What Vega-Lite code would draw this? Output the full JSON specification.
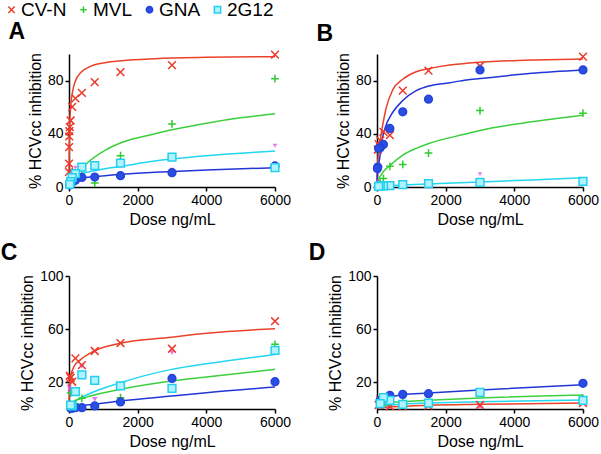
{
  "$schema": "https://vega.github.io/schema/vega-lite/v6.json",
  "padding": {"left": 0, "top": 0, "right": 2, "bottom": 2},
  "background": "white",
  "datasets": {
    "pts": [
      {"panel":"A","series":"CV-N","dose":6000,"pct":99.5},{"panel":"A","series":"CV-N","dose":3000,"pct":91.7},{"panel":"A","series":"CV-N","dose":1500,"pct":86.4},{"panel":"A","series":"CV-N","dose":750,"pct":78.8},{"panel":"A","series":"CV-N","dose":375,"pct":70.8},{"panel":"A","series":"CV-N","dose":187.5,"pct":66.6},{"panel":"A","series":"CV-N","dose":93.75,"pct":60.3},{"panel":"A","series":"CV-N","dose":46.9,"pct":50},{"panel":"A","series":"CV-N","dose":23.4,"pct":45},{"panel":"A","series":"CV-N","dose":11.7,"pct":42},{"panel":"A","series":"CV-N","dose":5.86,"pct":38},{"panel":"A","series":"CV-N","dose":2.93,"pct":30},{"panel":"A","series":"CV-N","dose":1.46,"pct":17.6},{"panel":"A","series":"CV-N","dose":0.73,"pct":11.3},
      {"panel":"A","series":"MVL","dose":6000,"pct":81.4},{"panel":"A","series":"MVL","dose":3000,"pct":47.4},{"panel":"A","series":"MVL","dose":1500,"pct":23.5},{"panel":"A","series":"MVL","dose":750,"pct":3},{"panel":"A","series":"MVL","dose":375,"pct":12.5},{"panel":"A","series":"MVL","dose":187.5,"pct":8},{"panel":"A","series":"MVL","dose":93.75,"pct":6},{"panel":"A","series":"MVL","dose":46.9,"pct":4.5},{"panel":"A","series":"MVL","dose":23.4,"pct":3},
      {"panel":"A","series":"GNA","dose":6000,"pct":15.8},{"panel":"A","series":"GNA","dose":3000,"pct":10.8},{"panel":"A","series":"GNA","dose":1500,"pct":8.5},{"panel":"A","series":"GNA","dose":750,"pct":7.5},{"panel":"A","series":"GNA","dose":375,"pct":7.2},{"panel":"A","series":"GNA","dose":187.5,"pct":5},{"panel":"A","series":"GNA","dose":93.75,"pct":3.5},{"panel":"A","series":"GNA","dose":46.9,"pct":2.5},{"panel":"A","series":"GNA","dose":23.4,"pct":1.5},
      {"panel":"A","series":"2G12","dose":6000,"pct":14.5},{"panel":"A","series":"2G12","dose":3000,"pct":22.5},{"panel":"A","series":"2G12","dose":1500,"pct":18},{"panel":"A","series":"2G12","dose":750,"pct":16},{"panel":"A","series":"2G12","dose":375,"pct":15},{"panel":"A","series":"2G12","dose":187.5,"pct":10},{"panel":"A","series":"2G12","dose":93.75,"pct":7},{"panel":"A","series":"2G12","dose":46.9,"pct":4},{"panel":"A","series":"2G12","dose":23.4,"pct":2},
      {"panel":"B","series":"CV-N","dose":6000,"pct":98},{"panel":"B","series":"CV-N","dose":3000,"pct":91},{"panel":"B","series":"CV-N","dose":1500,"pct":87.5},{"panel":"B","series":"CV-N","dose":750,"pct":72.5},{"panel":"B","series":"CV-N","dose":375,"pct":39},{"panel":"B","series":"CV-N","dose":187.5,"pct":41.5},{"panel":"B","series":"CV-N","dose":93.75,"pct":35},{"panel":"B","series":"CV-N","dose":46.9,"pct":32},{"panel":"B","series":"CV-N","dose":23.4,"pct":28},
      {"panel":"B","series":"MVL","dose":6000,"pct":55.5},{"panel":"B","series":"MVL","dose":3000,"pct":57.5},{"panel":"B","series":"MVL","dose":1500,"pct":25.5},{"panel":"B","series":"MVL","dose":750,"pct":17},{"panel":"B","series":"MVL","dose":375,"pct":15.6},{"panel":"B","series":"MVL","dose":187.5,"pct":6.3},{"panel":"B","series":"MVL","dose":93.75,"pct":3},{"panel":"B","series":"MVL","dose":46.9,"pct":2},
      {"panel":"B","series":"GNA","dose":6000,"pct":88},{"panel":"B","series":"GNA","dose":3000,"pct":88},{"panel":"B","series":"GNA","dose":1500,"pct":66},{"panel":"B","series":"GNA","dose":750,"pct":56.5},{"panel":"B","series":"GNA","dose":375,"pct":44},{"panel":"B","series":"GNA","dose":187.5,"pct":32},{"panel":"B","series":"GNA","dose":93.75,"pct":29.5},{"panel":"B","series":"GNA","dose":46.9,"pct":29},{"panel":"B","series":"GNA","dose":23.4,"pct":15},{"panel":"B","series":"GNA","dose":11.7,"pct":14},
      {"panel":"B","series":"2G12","dose":6000,"pct":4.3},{"panel":"B","series":"2G12","dose":3000,"pct":3.5},{"panel":"B","series":"2G12","dose":1500,"pct":2.5},{"panel":"B","series":"2G12","dose":750,"pct":1.8},{"panel":"B","series":"2G12","dose":375,"pct":1},{"panel":"B","series":"2G12","dose":187.5,"pct":0.8},{"panel":"B","series":"2G12","dose":93.75,"pct":0.8},{"panel":"B","series":"2G12","dose":46.9,"pct":0.5},
      {"panel":"C","series":"CV-N","dose":6000,"pct":66},{"panel":"C","series":"CV-N","dose":3000,"pct":45.3},{"panel":"C","series":"CV-N","dose":1500,"pct":49.6},{"panel":"C","series":"CV-N","dose":750,"pct":43.6},{"panel":"C","series":"CV-N","dose":375,"pct":33},{"panel":"C","series":"CV-N","dose":187.5,"pct":38},{"panel":"C","series":"CV-N","dose":93.75,"pct":20.5},{"panel":"C","series":"CV-N","dose":46.9,"pct":23.5},{"panel":"C","series":"CV-N","dose":23.4,"pct":25},
      {"panel":"C","series":"MVL","dose":6000,"pct":48.6},{"panel":"C","series":"MVL","dose":1500,"pct":8.5},{"panel":"C","series":"MVL","dose":375,"pct":8},{"panel":"C","series":"MVL","dose":187.5,"pct":4},{"panel":"C","series":"MVL","dose":93.75,"pct":2},{"panel":"C","series":"MVL","dose":46.9,"pct":12},{"panel":"C","series":"MVL","dose":23.4,"pct":3},
      {"panel":"C","series":"GNA","dose":6000,"pct":20.5},{"panel":"C","series":"GNA","dose":3000,"pct":23},{"panel":"C","series":"GNA","dose":1500,"pct":5.3},{"panel":"C","series":"GNA","dose":750,"pct":2.3},{"panel":"C","series":"GNA","dose":375,"pct":1},{"panel":"C","series":"GNA","dose":187.5,"pct":1},{"panel":"C","series":"GNA","dose":93.75,"pct":0.5},{"panel":"C","series":"GNA","dose":46.9,"pct":0.5},
      {"panel":"C","series":"2G12","dose":6000,"pct":44},{"panel":"C","series":"2G12","dose":3000,"pct":15.5},{"panel":"C","series":"2G12","dose":1500,"pct":17.3},{"panel":"C","series":"2G12","dose":750,"pct":21.6},{"panel":"C","series":"2G12","dose":375,"pct":25.6},{"panel":"C","series":"2G12","dose":187.5,"pct":13},{"panel":"C","series":"2G12","dose":93.75,"pct":2.3},{"panel":"C","series":"2G12","dose":46.9,"pct":3},
      {"panel":"D","series":"CV-N","dose":6000,"pct":4.5},{"panel":"D","series":"CV-N","dose":3000,"pct":3},{"panel":"D","series":"CV-N","dose":1500,"pct":2.5},{"panel":"D","series":"CV-N","dose":750,"pct":2},{"panel":"D","series":"CV-N","dose":375,"pct":2},{"panel":"D","series":"CV-N","dose":93.75,"pct":7},{"panel":"D","series":"CV-N","dose":46.9,"pct":3},
      {"panel":"D","series":"MVL","dose":6000,"pct":8},{"panel":"D","series":"MVL","dose":1500,"pct":11},{"panel":"D","series":"MVL","dose":750,"pct":6},{"panel":"D","series":"MVL","dose":375,"pct":5},{"panel":"D","series":"MVL","dose":187.5,"pct":3},
      {"panel":"D","series":"GNA","dose":6000,"pct":19.3},{"panel":"D","series":"GNA","dose":1500,"pct":11.5},{"panel":"D","series":"GNA","dose":750,"pct":11},{"panel":"D","series":"GNA","dose":375,"pct":10.3},{"panel":"D","series":"GNA","dose":187.5,"pct":8},{"panel":"D","series":"GNA","dose":93.75,"pct":6.5},
      {"panel":"D","series":"2G12","dose":6000,"pct":6.5},{"panel":"D","series":"2G12","dose":3000,"pct":12.5},{"panel":"D","series":"2G12","dose":1500,"pct":4.5},{"panel":"D","series":"2G12","dose":750,"pct":3.5},{"panel":"D","series":"2G12","dose":375,"pct":6.5},{"panel":"D","series":"2G12","dose":187.5,"pct":8.5},{"panel":"D","series":"2G12","dose":93.75,"pct":4}
    ],
    "extra": [
      {"panel":"A","dose":6000,"pct":31},{"panel":"A","dose":3000,"pct":13},{"panel":"A","dose":1500,"pct":18},{"panel":"A","dose":750,"pct":17},{"panel":"A","dose":187.5,"pct":14.5},{"panel":"A","dose":93.75,"pct":9},
      {"panel":"B","dose":3000,"pct":9.6},{"panel":"B","dose":1500,"pct":2.5},{"panel":"B","dose":750,"pct":3.8},{"panel":"B","dose":187.5,"pct":2},{"panel":"B","dose":46.9,"pct":10.5},{"panel":"B","dose":23.4,"pct":4.3},
      {"panel":"C","dose":3000,"pct":42.3},{"panel":"C","dose":1500,"pct":18.6},{"panel":"C","dose":750,"pct":7.3},{"panel":"C","dose":375,"pct":32.3},{"panel":"C","dose":46.9,"pct":14.5},{"panel":"C","dose":23.4,"pct":12.5},{"panel":"C","dose":11.7,"pct":16.5},
      {"panel":"D","dose":3000,"pct":1.5},{"panel":"D","dose":1500,"pct":3.5},{"panel":"D","dose":750,"pct":3},{"panel":"D","dose":375,"pct":1.5},{"panel":"D","dose":93.75,"pct":1}
    ],
    "fit": [
      {"panel":"A","series":"CV-N","dose":0,"pct":0},{"panel":"A","series":"CV-N","dose":2,"pct":12},{"panel":"A","series":"CV-N","dose":5,"pct":20},{"panel":"A","series":"CV-N","dose":10,"pct":33},{"panel":"A","series":"CV-N","dose":20,"pct":46},{"panel":"A","series":"CV-N","dose":48,"pct":60},{"panel":"A","series":"CV-N","dose":100,"pct":71},{"panel":"A","series":"CV-N","dose":175,"pct":79},{"panel":"A","series":"CV-N","dose":369,"pct":86.7},{"panel":"A","series":"CV-N","dose":563,"pct":90},{"panel":"A","series":"CV-N","dose":1048,"pct":93.5},{"panel":"A","series":"CV-N","dose":1533,"pct":95},{"panel":"A","series":"CV-N","dose":2503,"pct":96.5},{"panel":"A","series":"CV-N","dose":4000,"pct":97.5},{"panel":"A","series":"CV-N","dose":6000,"pct":98},
      {"panel":"A","series":"MVL","dose":0,"pct":0},{"panel":"A","series":"MVL","dose":50,"pct":2.5},{"panel":"A","series":"MVL","dose":100,"pct":5},{"panel":"A","series":"MVL","dose":175,"pct":8.8},{"panel":"A","series":"MVL","dose":369,"pct":13.8},{"panel":"A","series":"MVL","dose":563,"pct":18.8},{"panel":"A","series":"MVL","dose":1048,"pct":27.6},{"panel":"A","series":"MVL","dose":1533,"pct":33.5},{"panel":"A","series":"MVL","dose":2503,"pct":40},{"panel":"A","series":"MVL","dose":3000,"pct":43},{"panel":"A","series":"MVL","dose":4000,"pct":48},{"panel":"A","series":"MVL","dose":5000,"pct":52},{"panel":"A","series":"MVL","dose":6000,"pct":55},
      {"panel":"A","series":"2G12","dose":0,"pct":0},{"panel":"A","series":"2G12","dose":50,"pct":3},{"panel":"A","series":"2G12","dose":100,"pct":5},{"panel":"A","series":"2G12","dose":200,"pct":7.5},{"panel":"A","series":"2G12","dose":369,"pct":10},{"panel":"A","series":"2G12","dose":700,"pct":12},{"panel":"A","series":"2G12","dose":1048,"pct":13.8},{"panel":"A","series":"2G12","dose":1500,"pct":15.5},{"panel":"A","series":"2G12","dose":2503,"pct":19.5},{"panel":"A","series":"2G12","dose":3000,"pct":21},{"panel":"A","series":"2G12","dose":4000,"pct":23.5},{"panel":"A","series":"2G12","dose":6000,"pct":27},
      {"panel":"A","series":"GNA","dose":0,"pct":0},{"panel":"A","series":"GNA","dose":30,"pct":2},{"panel":"A","series":"GNA","dose":100,"pct":4},{"panel":"A","series":"GNA","dose":200,"pct":5.5},{"panel":"A","series":"GNA","dose":369,"pct":6.8},{"panel":"A","series":"GNA","dose":750,"pct":7.8},{"panel":"A","series":"GNA","dose":1048,"pct":8.5},{"panel":"A","series":"GNA","dose":1500,"pct":9.5},{"panel":"A","series":"GNA","dose":2500,"pct":11},{"panel":"A","series":"GNA","dose":3000,"pct":11.6},{"panel":"A","series":"GNA","dose":4000,"pct":12.8},{"panel":"A","series":"GNA","dose":6000,"pct":14.5},
      {"panel":"B","series":"CV-N","dose":0,"pct":0},{"panel":"B","series":"CV-N","dose":10,"pct":12},{"panel":"B","series":"CV-N","dose":30,"pct":22},{"panel":"B","series":"CV-N","dose":68,"pct":30},{"panel":"B","series":"CV-N","dose":100,"pct":36},{"panel":"B","series":"CV-N","dose":166,"pct":46.5},{"panel":"B","series":"CV-N","dose":263,"pct":59},{"panel":"B","series":"CV-N","dose":458,"pct":73},{"panel":"B","series":"CV-N","dose":751,"pct":81},{"panel":"B","series":"CV-N","dose":1141,"pct":86.7},{"panel":"B","series":"CV-N","dose":1512,"pct":89},{"panel":"B","series":"CV-N","dose":2117,"pct":91.7},{"panel":"B","series":"CV-N","dose":2605,"pct":93},{"panel":"B","series":"CV-N","dose":3500,"pct":94.5},{"panel":"B","series":"CV-N","dose":4500,"pct":95.5},{"panel":"B","series":"CV-N","dose":6000,"pct":96.3},
      {"panel":"B","series":"GNA","dose":0,"pct":0},{"panel":"B","series":"GNA","dose":10,"pct":8},{"panel":"B","series":"GNA","dose":30,"pct":14},{"panel":"B","series":"GNA","dose":68,"pct":20},{"panel":"B","series":"GNA","dose":166,"pct":37.7},{"panel":"B","series":"GNA","dose":263,"pct":46.5},{"panel":"B","series":"GNA","dose":380,"pct":52.8},{"panel":"B","series":"GNA","dose":751,"pct":65},{"panel":"B","series":"GNA","dose":1141,"pct":72.4},{"panel":"B","series":"GNA","dose":1512,"pct":76},{"panel":"B","series":"GNA","dose":2117,"pct":78.4},{"panel":"B","series":"GNA","dose":2605,"pct":80.5},{"panel":"B","series":"GNA","dose":3000,"pct":81.5},{"panel":"B","series":"GNA","dose":4500,"pct":85.5},{"panel":"B","series":"GNA","dose":6000,"pct":88},
      {"panel":"B","series":"MVL","dose":0,"pct":0},{"panel":"B","series":"MVL","dose":50,"pct":6},{"panel":"B","series":"MVL","dose":117,"pct":9},{"panel":"B","series":"MVL","dose":200,"pct":12},{"panel":"B","series":"MVL","dose":380,"pct":16.3},{"panel":"B","series":"MVL","dose":751,"pct":24},{"panel":"B","series":"MVL","dose":1141,"pct":29},{"panel":"B","series":"MVL","dose":1512,"pct":32.7},{"panel":"B","series":"MVL","dose":2605,"pct":40},{"panel":"B","series":"MVL","dose":3000,"pct":42.5},{"panel":"B","series":"MVL","dose":4500,"pct":49},{"panel":"B","series":"MVL","dose":6000,"pct":54},
      {"panel":"B","series":"2G12","dose":0,"pct":0.5},{"panel":"B","series":"2G12","dose":750,"pct":1.5},{"panel":"B","series":"2G12","dose":1500,"pct":2.3},{"panel":"B","series":"2G12","dose":3000,"pct":3.8},{"panel":"B","series":"2G12","dose":4500,"pct":5.3},{"panel":"B","series":"2G12","dose":6000,"pct":7},
      {"panel":"C","series":"CV-N","dose":0,"pct":3},{"panel":"C","series":"CV-N","dose":10,"pct":14},{"panel":"C","series":"CV-N","dose":38,"pct":23.5},{"panel":"C","series":"CV-N","dose":154,"pct":32.3},{"panel":"C","series":"CV-N","dose":346,"pct":37.3},{"panel":"C","series":"CV-N","dose":731,"pct":43.6},{"panel":"C","series":"CV-N","dose":1500,"pct":49.4},{"panel":"C","series":"CV-N","dose":2990,"pct":54},{"panel":"C","series":"CV-N","dose":4000,"pct":57},{"panel":"C","series":"CV-N","dose":6000,"pct":60.4},
      {"panel":"C","series":"2G12","dose":0,"pct":1},{"panel":"C","series":"2G12","dose":154,"pct":5.5},{"panel":"C","series":"2G12","dose":346,"pct":8.5},{"panel":"C","series":"2G12","dose":731,"pct":13},{"panel":"C","series":"2G12","dose":1500,"pct":19.8},{"panel":"C","series":"2G12","dose":2990,"pct":29.8},{"panel":"C","series":"2G12","dose":4000,"pct":34},{"panel":"C","series":"2G12","dose":6000,"pct":41},
      {"panel":"C","series":"MVL","dose":0,"pct":1.5},{"panel":"C","series":"MVL","dose":154,"pct":6},{"panel":"C","series":"MVL","dose":346,"pct":7.8},{"panel":"C","series":"MVL","dose":731,"pct":10.5},{"panel":"C","series":"MVL","dose":1500,"pct":14.8},{"panel":"C","series":"MVL","dose":2990,"pct":21},{"panel":"C","series":"MVL","dose":4000,"pct":24},{"panel":"C","series":"MVL","dose":6000,"pct":29.8},
      {"panel":"C","series":"GNA","dose":0,"pct":0.5},{"panel":"C","series":"GNA","dose":346,"pct":2.5},{"panel":"C","series":"GNA","dose":731,"pct":3.5},{"panel":"C","series":"GNA","dose":1500,"pct":6},{"panel":"C","series":"GNA","dose":2990,"pct":9.8},{"panel":"C","series":"GNA","dose":4000,"pct":12.3},{"panel":"C","series":"GNA","dose":6000,"pct":16.5},
      {"panel":"D","series":"GNA","dose":0,"pct":5},{"panel":"D","series":"GNA","dose":375,"pct":8.8},{"panel":"D","series":"GNA","dose":750,"pct":10.8},{"panel":"D","series":"GNA","dose":1500,"pct":12},{"panel":"D","series":"GNA","dose":3000,"pct":14.3},{"panel":"D","series":"GNA","dose":6000,"pct":18.3},
      {"panel":"D","series":"MVL","dose":0,"pct":2.5},{"panel":"D","series":"MVL","dose":375,"pct":4.5},{"panel":"D","series":"MVL","dose":750,"pct":5.5},{"panel":"D","series":"MVL","dose":1500,"pct":6.5},{"panel":"D","series":"MVL","dose":3000,"pct":8.3},{"panel":"D","series":"MVL","dose":6000,"pct":10.5},
      {"panel":"D","series":"2G12","dose":0,"pct":1.5},{"panel":"D","series":"2G12","dose":750,"pct":3.8},{"panel":"D","series":"2G12","dose":1500,"pct":4.5},{"panel":"D","series":"2G12","dose":3000,"pct":5.5},{"panel":"D","series":"2G12","dose":6000,"pct":6.8},
      {"panel":"D","series":"CV-N","dose":0,"pct":1},{"panel":"D","series":"CV-N","dose":1500,"pct":2.8},{"panel":"D","series":"CV-N","dose":3000,"pct":3.5},{"panel":"D","series":"CV-N","dose":6000,"pct":4.5}
    ]
  },
  "columns": 2,
  "spacing": {"column": 17, "row": 15},
  "concat": [
    {
      "width": 206, "height": 133,
      "title": {"text": "A"},
      "layer": [
        {"data": {"name": "fit"}, "transform": [{"filter": "datum.panel === 'A'"}],
         "mark": {"type": "line", "interpolate": "monotone", "strokeWidth": 1.5},
         "encoding": {
           "x": {"field": "dose", "type": "quantitative", "scale": {"domain": [0, 6000], "nice": false}, "axis": {"values": [0, 2000, 4000, 6000], "title": "Dose ng/mL", "labelOverlap": false}},
           "y": {"field": "pct", "type": "quantitative", "scale": {"domain": [0, 100], "nice": false}, "axis": {"values": [0, 20, 40, 60, 80, 100], "title": "% HCVcc inhibition", "labelOverlap": false}},
           "color": {"field": "series", "type": "nominal", "scale": {"domain": ["2G12", "GNA", "MVL", "CV-N"], "range": ["#22d6f0", "#2236d6", "#3ccf3c", "#ea4128"]}, "legend": null}
         }},
        {"data": {"name": "extra"}, "transform": [{"filter": "datum.panel === 'A'"}],
         "mark": {"type": "point", "shape": "triangle-down", "filled": true, "color": "#e040e0", "size": 20},
         "encoding": {"x": {"field": "dose", "type": "quantitative"}, "y": {"field": "pct", "type": "quantitative"}}},
        {"data": {"name": "pts"}, "transform": [{"filter": "datum.panel === 'A'"}],
         "mark": {"type": "point", "size": 60, "strokeWidth": 1.5, "opacity": 1},
         "encoding": {
           "x": {"field": "dose", "type": "quantitative"},
           "y": {"field": "pct", "type": "quantitative"},
           "stroke": {"field": "series", "type": "nominal", "scale": {"domain": ["CV-N", "MVL", "GNA", "2G12"], "range": ["#ea3a2a", "#2ecc2e", "#2444dc", "#22cfee"]}},
           "fill": {"field": "series", "type": "nominal", "scale": {"domain": ["CV-N", "MVL", "GNA", "2G12"], "range": ["transparent", "transparent", "#2a4ee2", "#b0f2ff"]}},
           "shape": {"field": "series", "type": "nominal", "scale": {"domain": ["CV-N", "MVL", "GNA", "2G12"], "range": ["M-1,-1L1,1M-1,1L1,-1", "M-1,0L1,0M0,-1L0,1", "circle", "square"]}}
         }}
      ]
    },
    {
      "width": 206, "height": 133,
      "title": {"text": "B"},
      "layer": [
        {"data": {"name": "fit"}, "transform": [{"filter": "datum.panel === 'B'"}],
         "mark": {"type": "line", "interpolate": "monotone", "strokeWidth": 1.5},
         "encoding": {
           "x": {"field": "dose", "type": "quantitative", "scale": {"domain": [0, 6000], "nice": false}, "axis": {"values": [0, 2000, 4000, 6000], "title": "Dose ng/mL", "labelOverlap": false}},
           "y": {"field": "pct", "type": "quantitative", "scale": {"domain": [0, 100], "nice": false}, "axis": {"values": [0, 20, 40, 60, 80, 100], "title": "% HCVcc inhibition", "labelOverlap": false}},
           "color": {"field": "series", "type": "nominal", "legend": null}
         }},
        {"data": {"name": "extra"}, "transform": [{"filter": "datum.panel === 'B'"}],
         "mark": {"type": "point", "shape": "triangle-down", "filled": true, "color": "#e040e0", "size": 20},
         "encoding": {"x": {"field": "dose", "type": "quantitative"}, "y": {"field": "pct", "type": "quantitative"}}},
        {"data": {"name": "pts"}, "transform": [{"filter": "datum.panel === 'B'"}],
         "mark": {"type": "point", "size": 60, "strokeWidth": 1.5, "opacity": 1},
         "encoding": {
           "x": {"field": "dose", "type": "quantitative"},
           "y": {"field": "pct", "type": "quantitative"},
           "stroke": {"field": "series", "type": "nominal"},
           "fill": {"field": "series", "type": "nominal"},
           "shape": {"field": "series", "type": "nominal"}
         }}
      ]
    },
    {
      "width": 206, "height": 133,
      "title": {"text": "C"},
      "layer": [
        {"data": {"name": "fit"}, "transform": [{"filter": "datum.panel === 'C'"}],
         "mark": {"type": "line", "interpolate": "monotone", "strokeWidth": 1.5},
         "encoding": {
           "x": {"field": "dose", "type": "quantitative", "scale": {"domain": [0, 6000], "nice": false}, "axis": {"values": [0, 2000, 4000, 6000], "title": "Dose ng/mL", "labelOverlap": false}},
           "y": {"field": "pct", "type": "quantitative", "scale": {"domain": [0, 100], "nice": false}, "axis": {"values": [20, 40, 60, 80, 100], "title": "% HCVcc inhibition", "labelOverlap": false}},
           "color": {"field": "series", "type": "nominal", "legend": null}
         }},
        {"data": {"name": "extra"}, "transform": [{"filter": "datum.panel === 'C'"}],
         "mark": {"type": "point", "shape": "triangle-down", "filled": true, "color": "#e040e0", "size": 30},
         "encoding": {"x": {"field": "dose", "type": "quantitative"}, "y": {"field": "pct", "type": "quantitative"}}},
        {"data": {"name": "pts"}, "transform": [{"filter": "datum.panel === 'C'"}],
         "mark": {"type": "point", "size": 60, "strokeWidth": 1.5, "opacity": 1},
         "encoding": {
           "x": {"field": "dose", "type": "quantitative"},
           "y": {"field": "pct", "type": "quantitative"},
           "stroke": {"field": "series", "type": "nominal"},
           "fill": {"field": "series", "type": "nominal"},
           "shape": {"field": "series", "type": "nominal"}
         }}
      ]
    },
    {
      "width": 206, "height": 133,
      "title": {"text": "D"},
      "layer": [
        {"data": {"name": "fit"}, "transform": [{"filter": "datum.panel === 'D'"}],
         "mark": {"type": "line", "interpolate": "monotone", "strokeWidth": 1.5},
         "encoding": {
           "x": {"field": "dose", "type": "quantitative", "scale": {"domain": [0, 6000], "nice": false}, "axis": {"values": [0, 2000, 4000, 6000], "title": "Dose ng/mL", "labelOverlap": false}},
           "y": {"field": "pct", "type": "quantitative", "scale": {"domain": [0, 100], "nice": false}, "axis": {"values": [20, 40, 60, 80, 100], "title": "% HCVcc inhibition", "labelOverlap": false}},
           "color": {"field": "series", "type": "nominal", "legend": null}
         }},
        {"data": {"name": "extra"}, "transform": [{"filter": "datum.panel === 'D'"}],
         "mark": {"type": "point", "shape": "triangle-down", "filled": true, "color": "#e040e0", "size": 30},
         "encoding": {"x": {"field": "dose", "type": "quantitative"}, "y": {"field": "pct", "type": "quantitative"}}},
        {"data": {"name": "pts"}, "transform": [{"filter": "datum.panel === 'D'"}],
         "mark": {"type": "point", "size": 60, "strokeWidth": 1.5, "opacity": 1},
         "encoding": {
           "x": {"field": "dose", "type": "quantitative"},
           "y": {"field": "pct", "type": "quantitative"},
           "stroke": {"field": "series", "type": "nominal"},
           "fill": {"field": "series", "type": "nominal"},
           "shape": {"field": "series", "type": "nominal"}
         }}
      ]
    }
  ],
  "config": {
    "font": "Liberation Sans",
    "view": {"stroke": null},
    "title": {"anchor": "start", "fontSize": 23, "fontWeight": "bold", "color": "black", "dx": -19, "offset": 4},
    "axis": {"grid": false, "domainColor": "black", "domainWidth": 1.5, "tickColor": "black", "tickWidth": 1.5, "tickSize": 4, "labelColor": "black", "labelFontSize": 14, "labelPadding": 2, "labelOverlap": false, "format": "d", "titleColor": "black", "titleFontSize": 16, "titleFontWeight": "normal", "titlePadding": 4},
    "axisX": {"labelFlush": false},
    "axisY": {"labelFlush": false},
    "legend": {"orient": "none", "legendX": -67, "legendY": -54, "direction": "horizontal", "title": null, "labelFontSize": 19, "labelColor": "black", "symbolSize": 40, "symbolStrokeWidth": 1.5, "labelOffset": 0, "columnPadding": 7}
  }
}
